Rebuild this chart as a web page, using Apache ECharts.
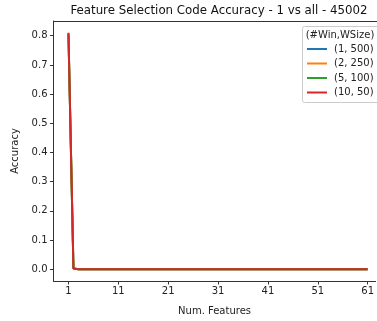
<!DOCTYPE html>
<html><head><meta charset="utf-8">
<script src="https://cdn.jsdelivr.net/npm/echarts@6/dist/echarts.min.js"></script>
<style>html,body{margin:0;padding:0;background:#fff}#c{width:377px;height:321px}</style>
</head><body><div id="c"></div>
<script>
const numFeatures = [1,2,3,4,5,6,7,8,9,10,11,12,13,14,15,16,17,18,19,20,21,22,23,24,25,26,27,28,29,30,31,32,33,34,35,36,37,38,39,40,41,42,43,44,45,46,47,48,49,50,51,52,53,54,55,56,57,58,59,60,61];
const seriesNames = ['(1, 500)', '(2, 250)', '(5, 100)', '(10, 50)'];
const tail = new Array(59).fill(0);
const acc_1_500 = [0.805, 0.003].concat(tail);
const acc_2_250 = [0.800, 0.002].concat(tail);
const acc_5_100 = [0.808, 0.002].concat(tail);
const acc_10_50 = [0.810, 0.002].concat(tail);
const xTicks = [1, 11, 21, 31, 41, 51, 61];
const yTicks = [0.0, 0.1, 0.2, 0.3, 0.4, 0.5, 0.6, 0.7, 0.8];
const colors = ['#1f77b4', '#ff7f0e', '#2ca02c', '#d62728'];
const allData = [acc_1_500, acc_2_250, acc_5_100, acc_10_50];

const font = 'DejaVu Sans';
const chart = echarts.init(document.getElementById('c'));
chart.setOption({
  animation: false,
  textStyle: {fontFamily: font},
  grid: {left: 53.5, right: 0, top: 21, bottom: 33, containLabel: false, show: false},
  xAxis: {type: 'value', min: -2, max: 62.6,
    name: 'Num. Features', nameLocation: 'middle', nameGap: 25,
    nameTextStyle: {fontFamily: font, fontSize: 10, color: '#222'},
    axisLine: {show: true, onZero: false, lineStyle: {color: '#333', width: 1}},
    axisTick: {show: true, length: 3.5, customValues: xTicks, lineStyle: {color: '#333'}},
    axisLabel: {customValues: xTicks, fontFamily: font, fontSize: 10, color: '#222', margin: 5},
    splitLine: {show: false}},
  yAxis: {type: 'value', min: -0.0405, max: 0.8505,
    name: 'Accuracy', nameLocation: 'middle', nameGap: 27,
    nameTextStyle: {fontFamily: font, fontSize: 10, color: '#222'},
    axisLine: {show: true, onZero: false, lineStyle: {color: '#333', width: 1}},
    axisTick: {show: true, length: 3.5, customValues: yTicks, lineStyle: {color: '#333'}},
    axisLabel: {customValues: yTicks, fontFamily: font, fontSize: 10, color: '#222', margin: 6,
      formatter: v => v.toFixed(1)},
    splitLine: {show: false}},
  graphic: [
    {type: 'text', x: 219, y: 11, style: {text: 'Feature Selection Code Accuracy - 1 vs all - 45002', fontFamily: font, fontSize: 11.8, fill: '#111', align: 'center', verticalAlign: 'middle'}},
    {type: 'line', shape: {x1: 53, y1: 21.5, x2: 377, y2: 21.5}, style: {stroke: '#333', lineWidth: 1}},
    {type: 'rect', shape: {x: 302.5, y: 26.5, width: 80, height: 76, r: 2}, style: {fill: 'rgba(255,255,255,0.8)', stroke: '#ccc', lineWidth: 1}, z: 10},
    {type: 'text', x: 340, y: 35, style: {text: '(#Win,WSize)', fontFamily: font, fontSize: 10, fill: '#222', align: 'center', verticalAlign: 'middle'}, z: 11}
  ],
  legend: {orient: 'vertical', left: 307, top: 43, padding: 0, itemWidth: 20, itemHeight: 2, itemGap: 2.5, icon: 'rect',
    textStyle: {fontFamily: font, fontSize: 10, color: '#222', padding: [0,0,0,2], lineHeight: 12}, z: 12,
    data: seriesNames},
  series: seriesNames.map((n, i) => ({
    name: n, type: 'line', showSymbol: false, symbol: 'none',
    data: numFeatures.map((x, j) => [x, allData[i][j]]),
    lineStyle: {color: colors[i], width: 2}, itemStyle: {color: colors[i]}, z: 2 + i
  }))
});
</script></body></html>
